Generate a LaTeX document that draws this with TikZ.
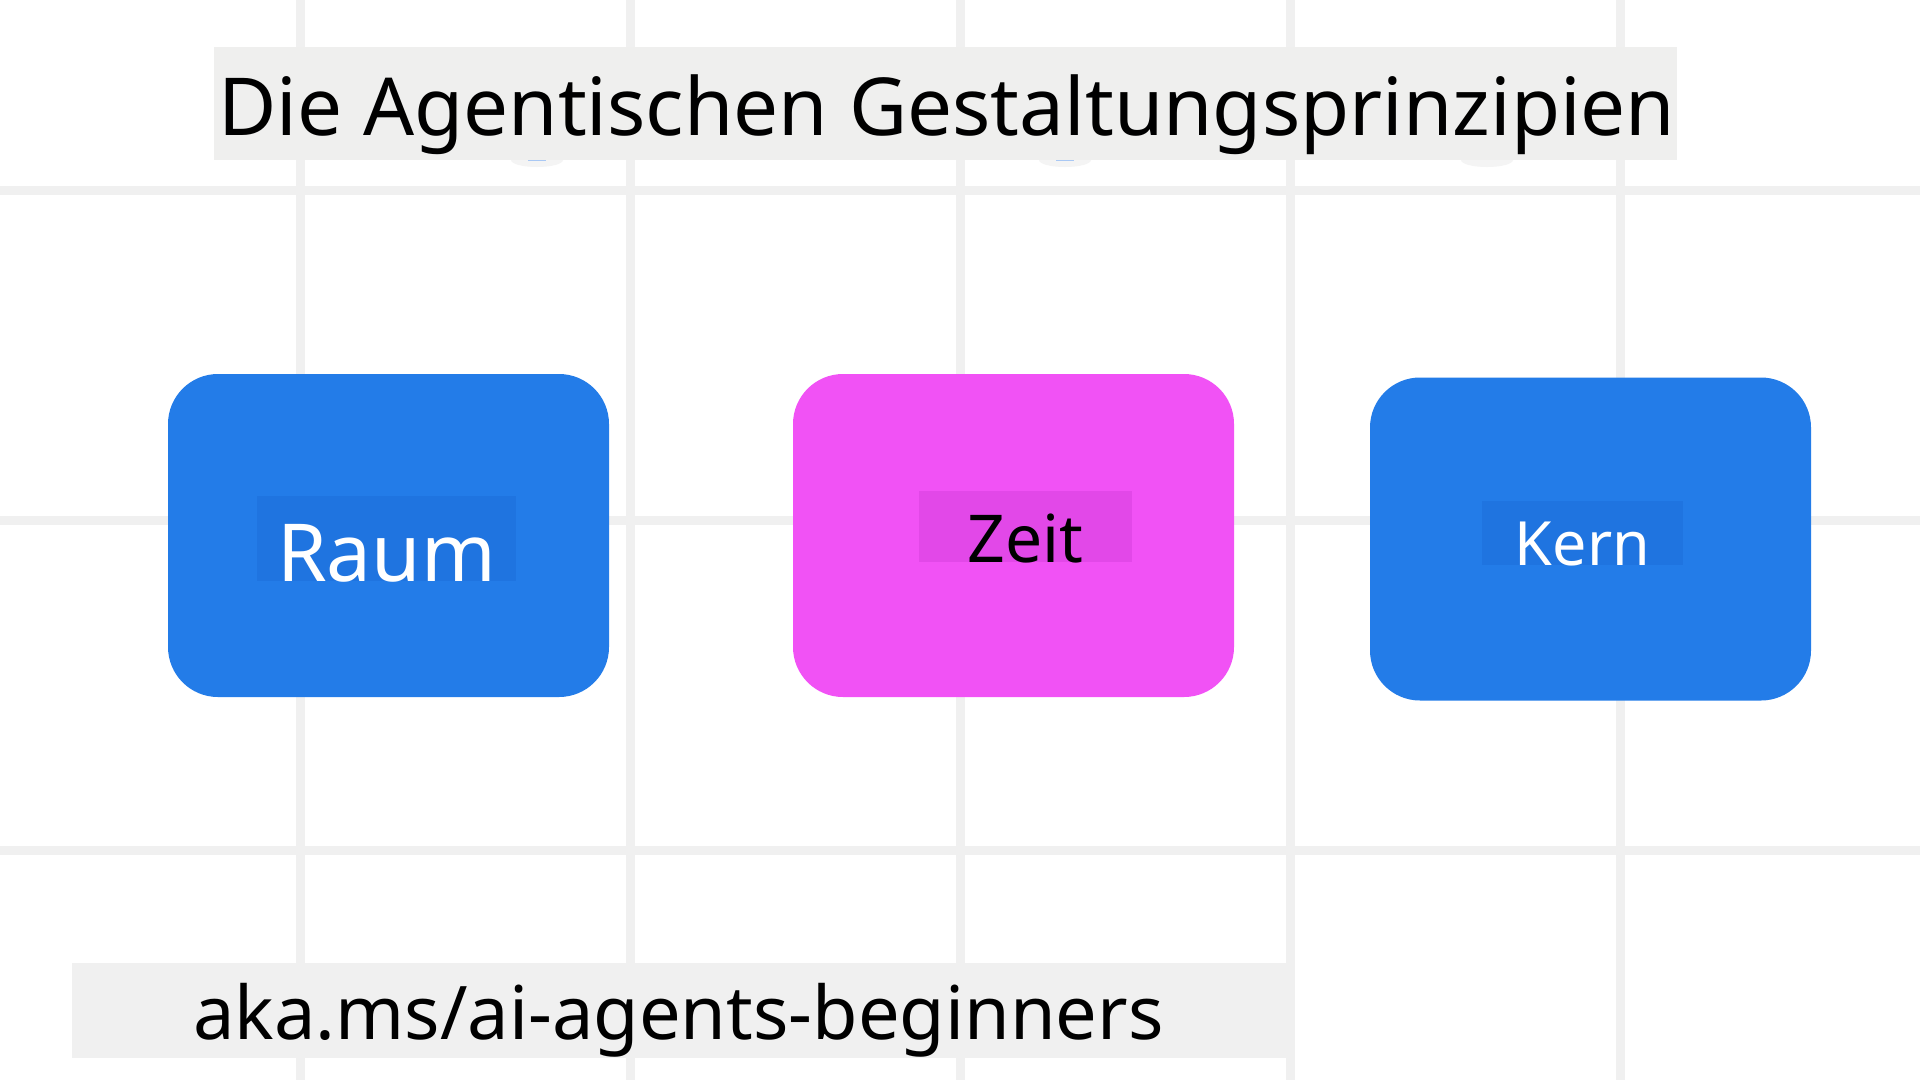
\documentclass[tikz,border=0pt]{standalone}
\usepackage{fontspec}
\setmainfont{Noto Sans}
\definecolor{gridc}{HTML}{F0F0F0}
\definecolor{panelc}{HTML}{EFEFEE}
\definecolor{footc}{HTML}{F0F0F0}
\definecolor{blueC}{HTML}{237CE8}
\definecolor{blueD}{HTML}{1F74E0}
\definecolor{magC}{HTML}{F152F5}
\definecolor{magD}{HTML}{E248E8}
\definecolor{shadowc}{HTML}{F4F4F4}
\definecolor{shadowb}{HTML}{A9C8F4}
\tikzset{
  gridline/.style={draw=gridc, line width=9pt},
  card/.style={rectangle, rounded corners=50pt, inner sep=0pt, draw=none},
  lbl/.style={rectangle, inner xsep=0pt, inner ysep=0pt, text depth=0pt, align=center},
  panel/.style={rectangle, inner sep=0pt, draw=none},
}
\begin{document}
\begin{tikzpicture}[x=1pt,y=-1pt]
\useasboundingbox (0,0) rectangle (1920,1080);
\fill[white] (0,0) rectangle (1920,1080);
% grid
\foreach \gx in {300,630,960,1290,1620} \draw[gridline] (\gx,0) -- (\gx,1080);
\foreach \gy in {190,520,850} \draw[gridline] (0,\gy) -- (1920,\gy);
% faint shadows under the title panel
\foreach \sx in {537,1065,1487} \fill[shadowc] (\sx,160) ellipse (26pt and 7pt);
\foreach \sx in {537,1065} \draw[shadowb, line width=1.2pt] (\sx-9,160.3) -- (\sx+9,160.3);
% title
\node[panel, fill=panelc, minimum width=1463pt, minimum height=113pt] (titlebox) at (945.5,103) {};
\node[anchor=base west, inner sep=0pt, font=\fontsize{80}{90}\selectfont] (title) at (218,135) {Die Agentischen Gestaltungsprinzipien};
% cards
\node[card, fill=blueC, minimum width=441pt, minimum height=323pt] (raum) at (388.5,535.5) {};
\node[card, fill=magC, minimum width=441pt, minimum height=323pt] (zeit) at (1013.5,535.5) {};
\node[card, fill=blueC, minimum width=441pt, minimum height=323pt] (kern) at (1590.5,539) {};
% labels
\node[lbl, fill=blueD, text=white, font=\fontsize{80}{84}\selectfont, minimum width=259pt, text height=85pt] (raumlbl) at (386.5,538.5) {Raum};
\node[lbl, fill=magD, text=black, font=\fontsize{66}{70}\selectfont, minimum width=213pt, text height=71pt] (zeitlbl) at (1025.5,526.5) {Zeit};
\node[lbl, fill=blueD, text=white, font=\fontsize{61}{66}\selectfont, minimum width=201pt, text height=64pt] (kernlbl) at (1582.5,533) {Kern};
% footer
\node[panel, fill=footc, minimum width=1222pt, minimum height=95pt] (footbox) at (683,1010.5) {};
\node[anchor=base west, inner sep=0pt, font=\fontsize{74}{80}\selectfont] (foot) at (193,1039) {aka.ms/ai-agents-beginners};
\end{tikzpicture}
\end{document}
